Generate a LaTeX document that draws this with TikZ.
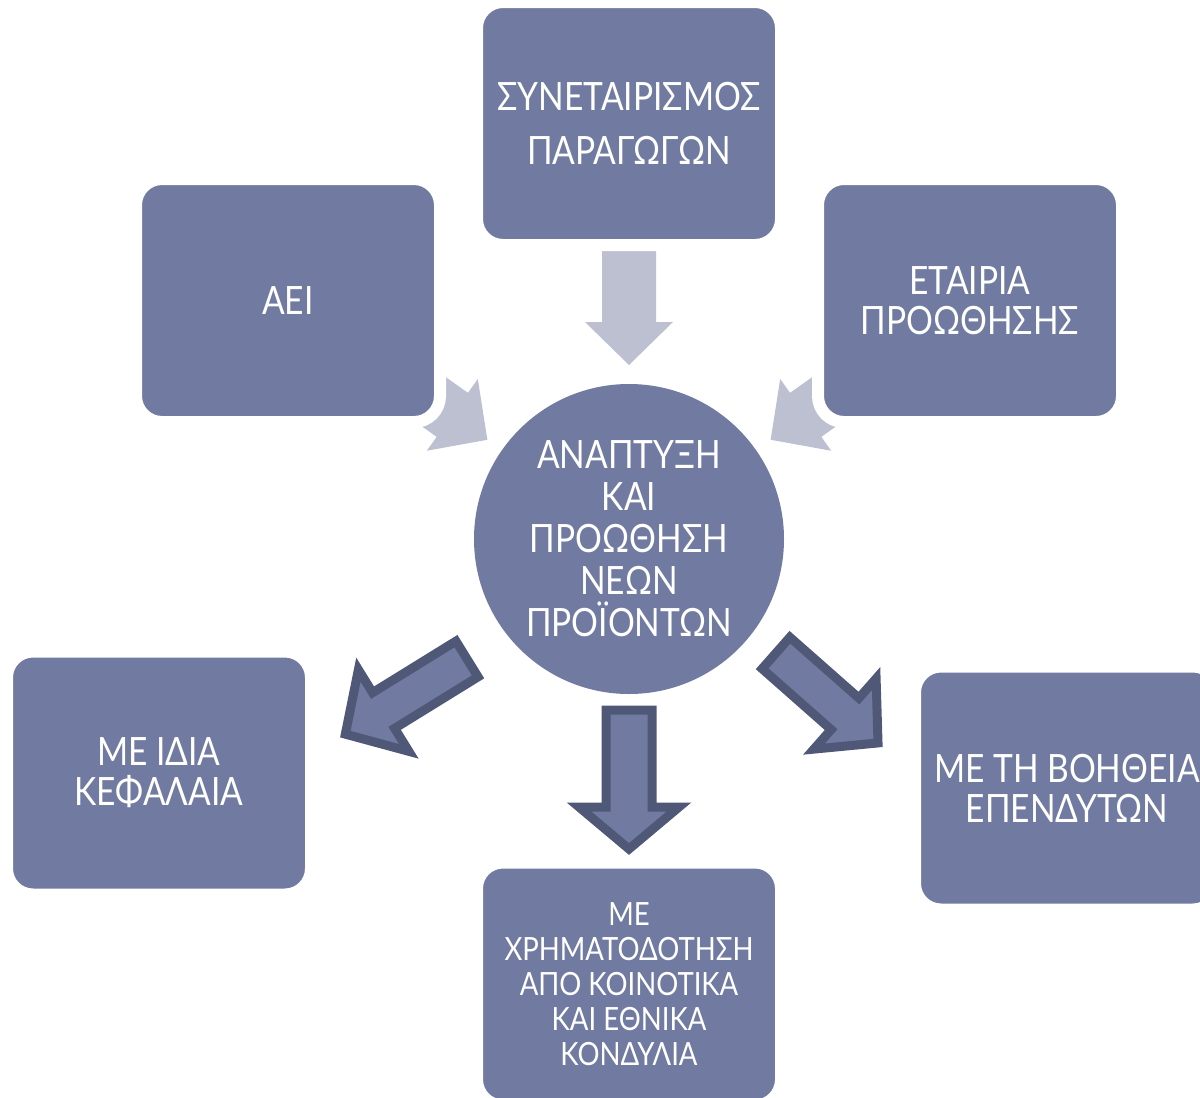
\documentclass[tikz,border=0pt]{standalone}
\usepackage{fontspec}
\setmainfont[FakeStretch=0.86]{Lato}
\definecolor{boxfill}{HTML}{717AA0}
\definecolor{lightarrow}{HTML}{BCC0D0}
\definecolor{darkedge}{HTML}{505878}
\newcommand{\blockarrow}[8]{%
  \path[#1, shift={(#2,#3)}, rotate=#4]
    (0,-#6) -- (#5-#8,-#6) -- (#5-#8,-#7) -- (#5,0) -- (#5-#8,#7) -- (#5-#8,#6) -- (0,#6) -- cycle;}
\tikzset{
  boxnode/.style={rectangle, rounded corners=26pt, fill=boxfill, draw=white, line width=12pt,
    minimum width=304pt, minimum height=243pt, inner sep=2pt, text=white, align=center,
    font=\fontsize{39}{40}\selectfont},
  circnode/.style={circle, fill=boxfill, minimum size=310pt, inner sep=0pt, text=white, align=center,
    font=\fontsize{39}{42}\selectfont},
  lightarr/.style={fill=lightarrow},
  darkarr/.style={fill=boxfill, draw=darkedge, line width=9pt, line join=miter}
}
\begin{document}
\begin{tikzpicture}[x=1pt,y=-1pt]
\useasboundingbox (0,0) rectangle (1200,1098);
\clip (0,0) rectangle (1200,1098);
% light arrows (partly covered by boxes)
\blockarrow{lightarr}{629}{248}{-90}{117}{27}{44}{43}
\blockarrow{lightarr}{392}{372}{-35.4}{117}{27}{44}{43}
\blockarrow{lightarr}{866}{372}{-144.6}{117}{27}{44}{43}
% boxes
\node[boxnode, font=\fontsize{39}{54}\selectfont] (prod) at (629,123.5) {ΣΥΝΕΤΑΙΡΙΣΜΟΣ\\ΠΑΡΑΓΩΓΩΝ};
\node[boxnode] (aei) at (288,300.5) {ΑΕΙ};
\node[boxnode] (etair) at (970,300.5) {ΕΤΑΙΡΙΑ\\ΠΡΟΩΘΗΣΗΣ};
\node[boxnode] (idia) at (159,773) {ΜΕ ΙΔΙΑ\\ΚΕΦΑΛΑΙΑ};
\node[boxnode] (epend) at (1067,788) {ΜΕ ΤΗ ΒΟΗΘΕΙΑ\\ΕΠΕΝΔΥΤΩΝ};
\node[boxnode, font=\fontsize{32}{35}\selectfont] (xrim) at (629,984) {ΜΕ\\ΧΡΗΜΑΤΟΔΟΤΗΣΗ\\ΑΠΟ ΚΟΙΝΟΤΙΚΑ\\ΚΑΙ ΕΘΝΙΚΑ\\ΚΟΝΔΥΛΙΑ};
% center
\node[circnode] (center) at (629,539) {ΑΝΑΠΤΥΞΗ\\ΚΑΙ\\ΠΡΟΩΘΗΣΗ\\ΝΕΩΝ\\ΠΡΟΪΟΝΤΩΝ};
% dark arrows
\blockarrow{darkarr}{629}{710}{-90}{139}{23}{50}{42}
\blockarrow{darkarr}{467}{659}{-148.3}{143}{21}{48}{45}
\blockarrow{darkarr}{776}{653}{-41.4}{136}{21}{47}{44}
\end{tikzpicture}
\end{document}
